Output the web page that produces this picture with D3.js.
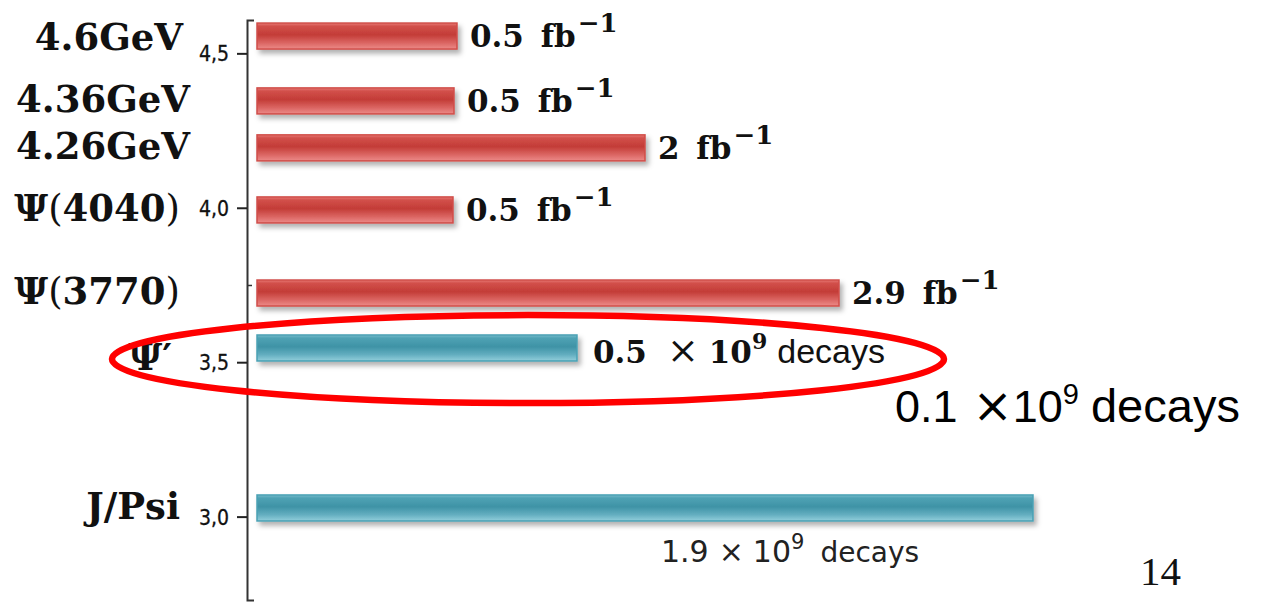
<!DOCTYPE html>
<html><head><meta charset="utf-8">
<script src="https://cdn.jsdelivr.net/npm/d3@7"></script>
<style>
html,body{margin:0;padding:0;background:#fff;overflow:hidden;}
svg{display:block;}
</style></head>
<body>
<svg id="chart" width="1262" height="605"></svg>
<script>
// ---- data ----
const categories = ["4.6GeV", "4.36GeV", "4.26GeV", "Ψ(4040)", "Ψ(3770)", "Ψ′", "J/Psi"];
const barEnergy  = [4.556, 4.346, 4.194, 3.993, 3.724, 3.546, 3.028];   // position on energy axis
const barLength  = [1.0, 0.985, 1.94, 0.98, 2.91, 1.6, 3.88];           // drawn length (arb. units)
const barKind    = ["lumi", "lumi", "lumi", "lumi", "lumi", "decays", "decays"];
const valueText  = ["0.5", "0.5", "2", "0.5", "2.9", "0.5", "1.9"];
const tickValues = [3.0, 3.5, 4.0, 4.5];
const minorTicks = [3.75];
const tickLabels = ["3,0", "3,5", "4,0", "4,5"];

// ---- layout ----
const svg = d3.select("#chart");
const y = d3.scaleLinear().domain([2.73, 4.608]).range([600, 20]);
const x = d3.scaleLinear().domain([0, 4]).range([257, 1057]);
const axisX = 247;
const barH = 26;

const defs = svg.append("defs");
function grad(id, stops) {
  const g = defs.append("linearGradient").attr("id", id)
    .attr("x1", 0).attr("y1", 0).attr("x2", 0).attr("y2", 1);
  stops.forEach(s => g.append("stop").attr("offset", s[0]).attr("stop-color", s[1]));
}
grad("gRed", [[0, "#e87a76"], [0.12, "#d2504b"], [0.45, "#c33c37"], [0.75, "#da6461"], [1, "#ec8a88"]]);
grad("gBlue", [[0, "#78bccb"], [0.12, "#4fa2b4"], [0.45, "#3f93a6"], [0.75, "#62adbf"], [1, "#92cedb"]]);
const f = defs.append("filter").attr("id", "shadow").attr("x", "-5%").attr("y", "-40%").attr("width", "115%").attr("height", "200%");
f.append("feDropShadow").attr("dx", 3).attr("dy", 4).attr("stdDeviation", 2.5)
  .attr("flood-color", "#000").attr("flood-opacity", 0.3);

// ---- axis ----
const axis = d3.axisLeft(y).tickValues(tickValues)
  .tickFormat((d, i) => tickLabels[i]).tickSize(10).tickSizeOuter(-7).tickPadding(8);
const ga = svg.append("g").attr("transform", `translate(${axisX},0)`).call(axis);
ga.attr("font-size", null).attr("font-family", null);
ga.select(".domain").attr("stroke", "#333").attr("stroke-width", 2);
ga.selectAll(".tick line").attr("stroke", "#222").attr("stroke-width", 2);
ga.selectAll(".tick text")
  .style("font-family", "'DejaVu Sans Condensed', 'Liberation Sans Narrow', 'Liberation Sans', sans-serif")
  .style("font-size", "21px").attr("fill", "#111")
  .attr("stroke", "#111").attr("stroke-width", 0.3).attr("dy", "0.36em");
const gm = svg.append("g").attr("transform", `translate(${axisX},0)`)
  .call(d3.axisLeft(y).tickValues(minorTicks).tickSize(-5).tickFormat(""));
gm.select(".domain").remove();
gm.selectAll(".tick line").attr("stroke", "#333").attr("stroke-width", 1.5);

// ---- bars ----
const data = categories.map((c, i) => ({c, e: barEnergy[i], v: barLength[i], k: barKind[i], t: valueText[i], i}));
svg.append("g").selectAll("rect").data(data).join("rect")
  .attr("x", x(0)).attr("y", d => y(d.e) - barH / 2)
  .attr("width", d => x(d.v) - x(0)).attr("height", barH)
  .attr("fill", d => d.k === "lumi" ? "url(#gRed)" : "url(#gBlue)")
  .attr("stroke", d => d.k === "lumi" ? "#d04e49" : "#4aa1b4")
  .attr("stroke-width", 1.5)
  .attr("filter", "url(#shadow)");

// ---- category labels ----
const labelDy = {0: 14, 5: 22};
const labelRight = {0: 183, 1: 190, 2: 190, 3: 180, 4: 180, 5: 172, 6: 180};
const catG = svg.append("g").attr("font-family", "DejaVu Serif, serif").attr("font-size", 37)
  .attr("font-weight", "bold").attr("fill", "#111");
data.forEach(d => {
  const t = catG.append("text").attr("x", labelRight[d.i]).attr("y", y(d.e) + (labelDy[d.i] || 11))
    .attr("text-anchor", "end");
  const parts = d.c.match(/[()]|[^()]+/g);
  parts.forEach(p => {
    const s = t.append("tspan").text(p);
    if (p === "(" || p === ")") s.attr("font-weight", "normal");
  });
});

// ---- value labels ----
const valG = svg.append("g").attr("fill", "#111");
data.filter(d => d.k === "lumi").forEach(d => {
  const t = valG.append("text").attr("x", x(d.v) + 13).attr("y", y(d.e) + 11)
    .attr("font-family", "DejaVu Serif, serif").attr("font-weight", "bold").attr("font-size", 31);
  t.append("tspan").text(d.t);
  t.append("tspan").attr("dx", 6).text(" fb");
  t.append("tspan").attr("font-size", 26).attr("dy", -15).attr("dx", 2).text("−1");
});
// Psi' label
{
  const d = data[5];
  const t = valG.append("text").attr("x", x(d.v) + 16).attr("y", y(d.e) + 15)
    .attr("font-family", "DejaVu Serif, serif").attr("font-size", 31);
  t.append("tspan").attr("font-weight", "bold").text(d.t);
  t.append("tspan").attr("dx", 20).attr("font-size", 38).text("×");
  t.append("tspan").attr("dx", 10).attr("font-weight", "bold").text("10");
  t.append("tspan").attr("font-weight", "bold").attr("font-size", 22).attr("dy", -14).text("9");
  t.append("tspan").attr("font-family", "Liberation Sans, Arial, sans-serif").attr("font-size", 34)
    .attr("dy", 14).attr("dx", 10).text("decays");
}
// J/Psi label
{
  const d = data[6];
  const t = valG.append("text").attr("x", 661).attr("y", y(d.e) + 54)
    .attr("font-family", "DejaVu Sans, sans-serif").attr("font-size", 30).attr("fill", "#222");
  t.append("tspan").text(d.t);
  t.append("tspan").attr("dx", 10).text("×");
  t.append("tspan").attr("dx", 9).text("10");
  t.append("tspan").attr("font-size", 21).attr("dy", -13).text("9");
  t.append("tspan").attr("dy", 13).attr("dx", 16).attr("font-size", 28).text("decays");
}

// ---- annotation ellipse & text ----
svg.append("ellipse")
  .attr("cx", x(1.355)).attr("cy", y(3.510))
  .attr("rx", x(2.08) - x(0)).attr("ry", y(3.0) - y(3.1425))
  .attr("fill", "none").attr("stroke", "#ff0000").attr("stroke-width", 6.5);

{
  const t = svg.append("text").attr("x", 895).attr("y", 422)
    .attr("font-family", "Liberation Sans, Arial, sans-serif").attr("font-size", 45).attr("fill", "#000");
  t.append("tspan").text("0.1");
  t.append("tspan").attr("dx", 15).attr("font-family", "DejaVu Sans, sans-serif").attr("font-size", 48).text("×");
  t.append("tspan").attr("dx", 0).text("10");
  t.append("tspan").attr("font-size", 29).attr("dy", -18).text("9");
  t.append("tspan").attr("dy", 18).attr("dx", 12).attr("font-size", 47).text("decays");
}
svg.append("text").attr("x", 1140).attr("y", 585)
  .attr("font-family", "Liberation Serif, Times New Roman, serif").attr("font-size", 41)
  .attr("fill", "#111").text("14");
</script>
</body></html>
